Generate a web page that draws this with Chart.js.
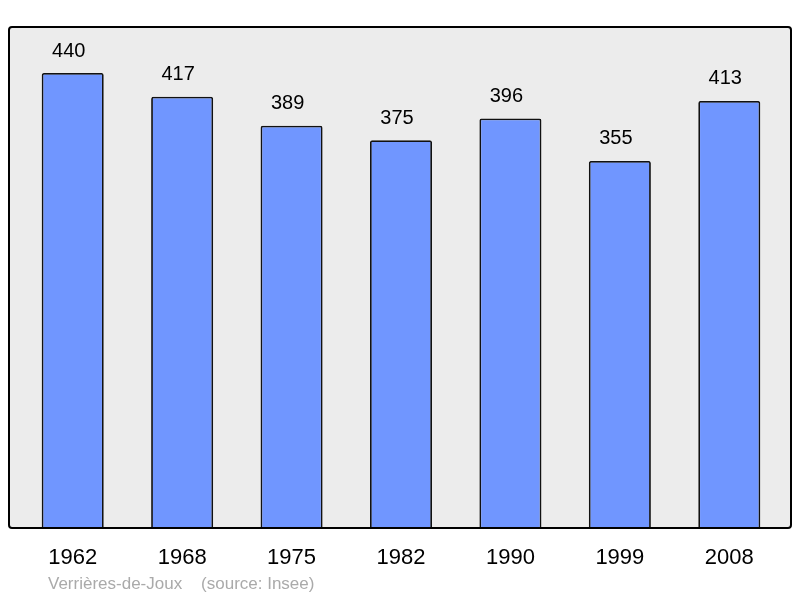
<!DOCTYPE html>
<html><head><meta charset="utf-8">
<script src="https://cdn.jsdelivr.net/npm/chart.js@4/dist/chart.umd.min.js"></script>
<style>html,body{margin:0;padding:0;background:#fff}#wrap{width:800px;height:598px;position:relative}</style>
</head><body><div id="wrap"><canvas id="c" width="800" height="598"></canvas></div>
<script>
const years = ["1962","1968","1975","1982","1990","1999","2008"];
const population = [440,417,389,375,396,355,413];
const caption = "Verrières-de-Joux    (source: Insee)";

const framePlugin = {
  id:'frame',
  beforeDraw(chart){
    const ctx = chart.ctx;
    const {top,bottom} = chart.chartArea;
    const l=9, r=791, rad=3;
    ctx.save();
    ctx.beginPath();
    ctx.roundRect(l, top, r-l, bottom-top, rad);
    ctx.fillStyle = '#ececec';
    ctx.fill();
    ctx.restore();
  },
  afterDatasetsDraw(chart){
    const ctx = chart.ctx;
    const {top,bottom} = chart.chartArea;
    const l=9, r=791, rad=3;
    ctx.save();
    ctx.beginPath();
    ctx.roundRect(l, top, r-l, bottom-top, rad);
    ctx.lineWidth = 2;
    ctx.strokeStyle = '#000';
    ctx.stroke();
    const meta = chart.getDatasetMeta(0);
    ctx.fillStyle = '#000';
    ctx.font = '20px "Liberation Sans", Arial, sans-serif';
    ctx.textAlign = 'center';
    ctx.textBaseline = 'middle';
    meta.data.forEach((bar,i)=>{
      ctx.fillText(String(population[i]), bar.x - 4, bar.y - 22);
    });
    ctx.fillStyle = '#aaaaaa';
    ctx.font = '17px "Liberation Sans", Arial, sans-serif';
    ctx.textAlign = 'left';
    ctx.fillText(caption, 48, 584);
    ctx.restore();
  }
};

new Chart(document.getElementById('c'), {
  type:'bar',
  data:{labels:years, datasets:[{data:population, backgroundColor:'#7096ff', borderColor:'#111', borderWidth:1.8, borderRadius:2, borderSkipped:'bottom', categoryPercentage:1, barPercentage:0.567}]},
  options:{
    responsive:false, animation:false,
    layout:{padding:{left:18,right:16,top:27,bottom:0}},
    plugins:{legend:{display:false}, tooltip:{enabled:false}},
    scales:{
      y:{display:false, min:0, max:484.5},
      x:{
        grid:{display:false}, border:{display:false},
        ticks:{color:'#000', font:{size:22, family:'"Liberation Sans", Arial, sans-serif'}, padding:9, maxRotation:0},
        afterFit(scale){ scale.height = 70; }
      }
    }
  },
  plugins:[framePlugin]
});
</script></body></html>
